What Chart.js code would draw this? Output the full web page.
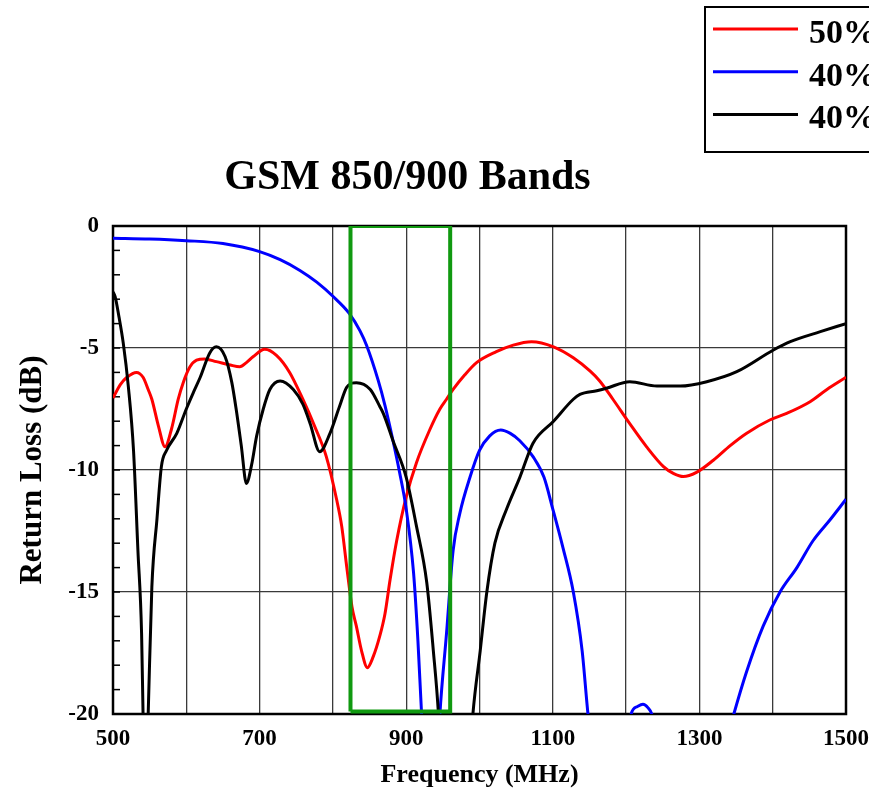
<!DOCTYPE html>
<html>
<head>
<meta charset="utf-8">
<script src="https://cdn.jsdelivr.net/npm/chart.js@4/dist/chart.umd.min.js"></script>
<style>
  html, body { margin: 0; padding: 0; background: #fff; overflow: hidden; }
  #wrap { width: 869px; height: 791px; position: relative; }
</style>
</head>
<body>
<div id="wrap"><canvas id="c" width="869" height="791"></canvas></div>
<script>
// Return loss measurements, frequency in MHz and return loss in dB
const redFreq = [500, 510, 519, 532, 541, 548, 553, 562, 571, 580, 589, 596, 605, 614, 625, 641, 660, 673, 682, 691, 707, 723, 741, 759, 775, 791, 805, 812, 819, 826, 832, 839, 847, 855, 864, 871, 878, 887, 900, 914, 932, 946, 955, 964, 980, 996, 1023, 1046, 1071, 1101, 1128, 1151, 1164, 1182, 1205, 1228, 1251, 1265, 1278, 1296, 1319, 1342, 1364, 1396, 1419, 1451, 1474, 1500];
const redLoss = [-7.05, -6.5, -6.2, -6.0, -6.2, -6.7, -7.1, -8.2, -9.05, -8.3, -7.1, -6.4, -5.77, -5.5, -5.45, -5.56, -5.7, -5.77, -5.6, -5.36, -5.05, -5.3, -6.0, -7.1, -8.2, -9.45, -11.2, -12.3, -14.0, -15.6, -16.4, -17.4, -18.1, -17.65, -16.8, -15.9, -14.5, -12.9, -11.1, -9.7, -8.36, -7.5, -7.1, -6.7, -6.1, -5.6, -5.15, -4.88, -4.74, -4.95, -5.4, -5.95, -6.35, -7.1, -8.1, -9.05, -9.86, -10.15, -10.27, -10.1, -9.6, -9.0, -8.5, -7.95, -7.68, -7.2, -6.7, -6.2];

const blueFreq = [500, 550, 600, 650, 700, 728, 755, 778, 800, 822, 837, 846, 862, 871, 882, 891, 900, 910, 916, 921, 928, 935, 941, 946, 955, 964, 973, 987, 1000, 1014, 1029, 1042, 1055, 1073, 1088, 1100, 1114, 1128, 1140, 1148, 1160, 1180, 1200, 1207, 1215, 1223, 1230, 1235, 1245, 1290, 1338, 1347, 1364, 1387, 1410, 1433, 1455, 1478, 1500];
const blueLoss = [-0.5, -0.53, -0.6, -0.72, -1.05, -1.38, -1.82, -2.3, -2.88, -3.57, -4.3, -4.9, -6.35, -7.35, -8.8, -10.1, -11.6, -14.2, -17.0, -20.0, -23.5, -26.0, -23.0, -20.0, -16.7, -13.3, -11.8, -10.3, -9.2, -8.6, -8.36, -8.5, -8.8, -9.45, -10.3, -11.6, -13.2, -15.0, -17.4, -20.0, -23.0, -25.0, -22.0, -20.0, -19.7, -19.6, -19.75, -20.0, -21.5, -25.0, -21.0, -20.0, -18.3, -16.4, -15.0, -14.0, -12.9, -12.05, -11.2];

const blackFreq = [500, 503, 508, 514, 521, 528, 534, 539, 541, 544, 548, 553, 560, 566, 573, 587, 600, 610, 619, 632, 641, 653, 662, 668, 675, 682, 689, 696, 705, 714, 728, 746, 759, 769, 782, 796, 809, 819, 832, 851, 864, 869, 882, 900, 914, 928, 937, 944, 955, 975, 991, 1001, 1010, 1021, 1037, 1055, 1073, 1101, 1128, 1137, 1160, 1173, 1205, 1242, 1274, 1310, 1351, 1401, 1424, 1465, 1500];
const blackLoss = [-2.7, -2.9, -3.7, -4.8, -6.6, -9.2, -13.3, -16.7, -20.0, -24.0, -20.0, -14.8, -12.0, -9.86, -9.2, -8.5, -7.5, -6.8, -6.2, -5.2, -4.95, -5.36, -6.4, -7.5, -9.0, -10.55, -9.8, -8.6, -7.5, -6.7, -6.35, -6.7, -7.3, -8.1, -9.25, -8.5, -7.4, -6.6, -6.42, -6.7, -7.4, -7.7, -8.8, -10.3, -12.3, -14.6, -17.4, -20.0, -27.0, -27.0, -20.0, -17.4, -15.0, -13.0, -11.6, -10.3, -8.9, -8.0, -7.1, -6.9, -6.75, -6.65, -6.38, -6.56, -6.56, -6.38, -5.97, -5.08, -4.74, -4.33, -4.0];

// GSM 850/900 band edges (MHz) and the box's vertical extent (dB)
const bandFreq = [824, 960];
const bandLoss = [0, -19.9];

const seriesLabels = ['50%', '40%', '40%'];
const seriesColors = ['#ff0000', '#0000ff', '#000000'];

const xLabelTicks = [500, 700, 900, 1100, 1300, 1500];
const yLabelTicks = [0, -5, -10, -15, -20];

const chartTitle = 'GSM 850/900 Bands';
const xTitle = 'Frequency (MHz)';
const yTitle = 'Return Loss (dB)';

const SERIF = "'Liberation Serif', 'Times New Roman', serif";

const toPoints = (xs, ys) => xs.map((x, i) => ({ x, y: ys[i] }));

const bandBox = [
  { x: bandFreq[0], y: bandLoss[1] },
  { x: bandFreq[0], y: bandLoss[0] },
  { x: bandFreq[1], y: bandLoss[0] },
  { x: bandFreq[1], y: bandLoss[1] },
  { x: bandFreq[0], y: bandLoss[1] }
];

// Frame, inner minor ticks, title and legend box
const chartDecor = {
  id: 'chartDecor',
  beforeDatasetsDraw(chart) {
    const { ctx, chartArea: a, scales: { y } } = chart;
    ctx.save();
    ctx.strokeStyle = '#000';
    ctx.lineWidth = 1.5;
    for (let v = Math.ceil(y.min); v <= y.max; v++) {
      const py = y.getPixelForValue(v);
      ctx.beginPath();
      ctx.moveTo(a.left, py);
      ctx.lineTo(a.left + 7, py);
      ctx.stroke();
    }
    ctx.lineWidth = 2.5;
    ctx.strokeRect(a.left, a.top, a.right - a.left, a.bottom - a.top);
    ctx.restore();
  },
  afterDraw(chart) {
    const { ctx } = chart;
    ctx.save();
    // title
    ctx.fillStyle = '#000';
    ctx.font = 'bold 42px ' + SERIF;
    ctx.textAlign = 'center';
    ctx.textBaseline = 'alphabetic';
    ctx.fillText(chartTitle, 407.5, 189);

    // legend box
    ctx.fillStyle = '#fff';
    ctx.fillRect(705, 7, 200, 145);
    ctx.strokeStyle = '#000';
    ctx.lineWidth = 2;
    ctx.strokeRect(705, 7, 200, 145);
    ctx.font = 'bold 34px ' + SERIF;
    ctx.textAlign = 'left';
    const rows = chart.data.datasets
      .filter(d => d.legendIndex !== undefined)
      .sort((p, q) => p.legendIndex - q.legendIndex);
    rows.forEach((d, i) => {
      const ly = 29 + i * 42.7;
      ctx.strokeStyle = d.borderColor;
      ctx.lineWidth = 3;
      ctx.beginPath();
      ctx.moveTo(713, ly);
      ctx.lineTo(798, ly);
      ctx.stroke();
      ctx.fillStyle = '#000';
      ctx.fillText(d.label, 809, ly + 14);
    });
    ctx.restore();
  }
};

const mkSeries = (idx, xs, ys, order) => ({
  label: seriesLabels[idx], legendIndex: idx, order,
  data: toPoints(xs, ys),
  borderColor: seriesColors[idx], backgroundColor: seriesColors[idx],
  borderWidth: 3, pointRadius: 0,
  cubicInterpolationMode: 'monotone', fill: false
});

new Chart(document.getElementById('c'), {
  type: 'line',
  data: {
    datasets: [
      {
        label: 'GSM band', order: 0,
        data: bandBox,
        borderColor: '#109910', borderWidth: 4, pointRadius: 0,
        tension: 0, fill: false
      },
      mkSeries(2, blackFreq, blackLoss, 1),
      mkSeries(1, blueFreq, blueLoss, 2),
      mkSeries(0, redFreq, redLoss, 3)
    ]
  },
  options: {
    responsive: false,
    animation: false,
    events: [],
    layout: { padding: { top: 226, right: 23, left: 0, bottom: 0 } },
    plugins: { legend: { display: false }, title: { display: false }, tooltip: { enabled: false } },
    scales: {
      x: {
        type: 'linear', min: 500, max: 1500,
        afterFit(s) { s.height = 77; s.paddingLeft = 0; s.paddingRight = 0; },
        ticks: {
          stepSize: 100, autoSkip: false, maxRotation: 0, padding: 11,
          color: '#000', font: { family: SERIF, size: 23, weight: 'bold' },
          callback: v => xLabelTicks.includes(v) ? String(v) : ''
        },
        grid: { color: '#3a3a3a', lineWidth: 1.3, drawTicks: false },
        border: { display: false },
        title: {
          display: true, text: xTitle, color: '#000',
          font: { family: SERIF, size: 26, weight: 'bold' },
          padding: { top: 0, bottom: 0 }
        }
      },
      y: {
        type: 'linear', min: -20, max: 0,
        afterFit(s) { s.width = 113; },
        ticks: {
          stepSize: 1, autoSkip: false, padding: 14,
          color: '#000', font: { family: SERIF, size: 23, weight: 'bold' },
          callback: v => yLabelTicks.includes(v) ? String(v) : ''
        },
        grid: {
          color: c => (c.tick && c.tick.value % 5 === 0) ? '#3a3a3a' : 'rgba(0,0,0,0)',
          lineWidth: 1.3, drawTicks: false
        },
        border: { display: false },
        title: {
          display: true, text: yTitle, color: '#000',
          font: { family: SERIF, size: 31, weight: 'bold' },
          padding: { top: 14, bottom: 0 }
        }
      }
    }
  },
  plugins: [chartDecor]
});
</script>
</body>
</html>
